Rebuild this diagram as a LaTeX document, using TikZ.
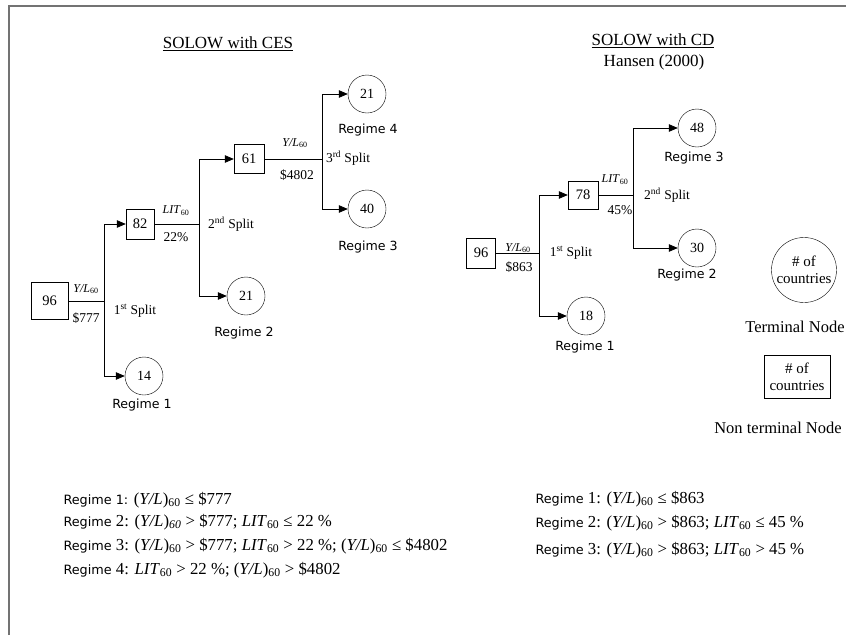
\documentclass[tikz,border=0pt]{standalone}
\usepackage{fontspec}
\setmainfont{Liberation Serif}
\newfontfamily\regfont{DejaVu Sans}
\usetikzlibrary{arrows.meta}

\newcommand{\yl}{\textit{Y/L}}
\newcommand{\lit}{\textit{LIT}}
\newcommand{\reg}[1]{{\regfont\fontsize{12.8}{15}\selectfont #1}}

\tikzset{
  leaf/.style={draw, circle, minimum size=38pt, inner sep=0pt, font=\fontsize{14}{16}\selectfont},
  split/.style={draw, rectangle, inner sep=0pt, font=\fontsize{14.5}{16}\selectfont},
  cut/.style={font=\fontsize{13.5}{15}\selectfont},
  small/.style={font=\fontsize{12}{13}\selectfont},
  regtxt/.style={font=\regfont\fontsize{12.6}{15}\selectfont},
  rule/.style={anchor=west, font=\fontsize{16.8}{18}\selectfont},
  branch/.style={line width=0.8pt},
  arr/.style={line width=0.8pt, -{Triangle[length=9pt,width=7.5pt]}}
}

\begin{document}
\begin{tikzpicture}[x=1pt, y=-1pt]
  \useasboundingbox (0,0) rectangle (846,635);
  % frame (only top and left visible)
  \draw[black!55, line width=2pt] (9,635) -- (9,5.5) -- (846,5.5);

  % titles
  \node[font=\fontsize{17}{20}\selectfont] (tces) at (228,44) {\underline{SOLOW with CES}};
  \node[font=\fontsize{17}{20}\selectfont] (tcd) at (653,41) {\underline{SOLOW with CD}};
  \node[font=\fontsize{17}{20}\selectfont] (thansen) at (654,62) {Hansen (2000)};

  % CES tree
  \node[split, minimum width=37pt, minimum height=37pt] (a96) at (49.5,301) {96};
  \node[split, minimum width=28pt, minimum height=30pt] (a82) at (140,224) {82};
  \node[split, minimum width=30pt, minimum height=29pt] (a61) at (249,159) {61};
  \node[leaf] (a14) at (144,376) {14};
  \node[leaf] (a21b) at (246,296) {21};
  \node[leaf] (a21a) at (367,94) {21};
  \node[leaf] (a40) at (367,209) {40};
  \coordinate (s1) at (104,301);
  \coordinate (s2) at (199,224);
  \coordinate (s3) at (322,159);

  \draw[branch] (a96) -- (s1);
  \draw[arr] (s1) |- (a82);
  \draw[arr] (s1) |- (a14);
  \draw[branch] (a82) -- (s2);
  \draw[arr] (s2) |- (a61);
  \draw[arr] (s2) |- (a21b);
  \draw[branch] (a61) -- (s3);
  \draw[arr] (s3) |- (a21a);
  \draw[arr] (s3) |- (a40);

  \node[small] (la1) at (86,289) {\yl\textsubscript{60}};
  \node[cut] (va1) at (86,318) {\$777};
  \node[cut] (sp1) at (135,311) {1\textsuperscript{st} Split};
  \node[small] (la2) at (176,211) {\lit\textsubscript{60}};
  \node[cut] (va2) at (176,237) {22\%};
  \node[cut] (sp2) at (231,224) {2\textsuperscript{nd} Split};
  \node[small] (la3) at (295,143) {\yl\textsubscript{60}};
  \node[cut] (va3) at (297,175) {\$4802};
  \node[cut] (sp3) at (348,158) {3\textsuperscript{rd} Split};

  \node[regtxt] (ra4) at (368,130) {Regime 4};
  \node[regtxt] (ra3) at (368,247) {Regime 3};
  \node[regtxt] (ra2) at (244,333) {Regime 2};
  \node[regtxt] (ra1) at (142,405) {Regime 1};

  % CD tree
  \node[split, minimum width=29pt, minimum height=30pt] (b96) at (481,253) {96};
  \node[split, minimum width=30pt, minimum height=28pt] (b78) at (583,195) {78};
  \node[leaf] (b18) at (586,316) {18};
  \node[leaf] (b48) at (697,128) {48};
  \node[leaf] (b30) at (697,248) {30};
  \coordinate (t1) at (539,253);
  \coordinate (t2) at (633,195);

  \draw[branch] (b96) -- (t1);
  \draw[arr] (t1) |- (b78);
  \draw[arr] (t1) |- (b18);
  \draw[branch] (b78) -- (t2);
  \draw[arr] (t2) |- (b48);
  \draw[arr] (t2) |- (b30);

  \node[small] (lb1) at (518,248) {\yl\textsubscript{60}};
  \node[cut] (vb1) at (519,267) {\$863};
  \node[cut] (sq1) at (571,253) {1\textsuperscript{st} Split};
  \node[small] (lb2) at (615,180) {\lit\textsubscript{60}};
  \node[cut] (vb2) at (620,210) {45\%};
  \node[cut] (sq2) at (667,195) {2\textsuperscript{nd} Split};

  \node[regtxt] (rb3) at (694,158) {Regime 3};
  \node[regtxt] (rb2) at (687,275) {Regime 2};
  \node[regtxt] (rb1) at (585,347) {Regime 1};

  % legend
  \node[draw, circle, minimum size=65pt, inner sep=0pt, align=center,
        font=\fontsize{15}{17}\selectfont] (lgc) at (804,270) {\# of\\countries};
  \node[font=\fontsize{16.5}{19}\selectfont] (lgct) at (795,327) {Terminal Node};
  \node[draw, minimum width=66pt, minimum height=43pt, inner sep=0pt, align=center,
        font=\fontsize{15}{17}\selectfont] (lgb) at (797,377) {\# of\\countries};
  \node[font=\fontsize{16.5}{19}\selectfont] (lgbt) at (778,428) {Non terminal Node};

  % regime rules
  \node[rule] (ca1) at (60,500) {\reg{Regime 1:} (\yl)\textsubscript{60} ≤ \$777};
  \node[rule] (ca2) at (60,522) {\reg{Regime} 2: (\yl)\textsubscript{\textit{60}} > \$777; \lit\textsubscript{60} ≤ 22 \%};
  \node[rule] (ca3) at (60,546) {\reg{Regime} 3: (\yl)\textsubscript{60} > \$777; \lit\textsubscript{60} > 22 \%; (\yl)\textsubscript{60} ≤ \$4802};
  \node[rule] (ca4) at (60,570) {\reg{Regime} 4: \lit\textsubscript{60} > 22 \%; (\yl)\textsubscript{60} > \$4802};

  \node[rule] (cb1) at (532,499) {\reg{Regime} 1: (\yl)\textsubscript{60} ≤ \$863};
  \node[rule] (cb2) at (532,523) {\reg{Regime} 2: (\yl)\textsubscript{60} > \$863; \lit\textsubscript{60} ≤ 45 \%};
  \node[rule] (cb3) at (532,550) {\reg{Regime} 3: (\yl)\textsubscript{60} > \$863; \lit\textsubscript{60} > 45 \%};
\end{tikzpicture}
\end{document}
